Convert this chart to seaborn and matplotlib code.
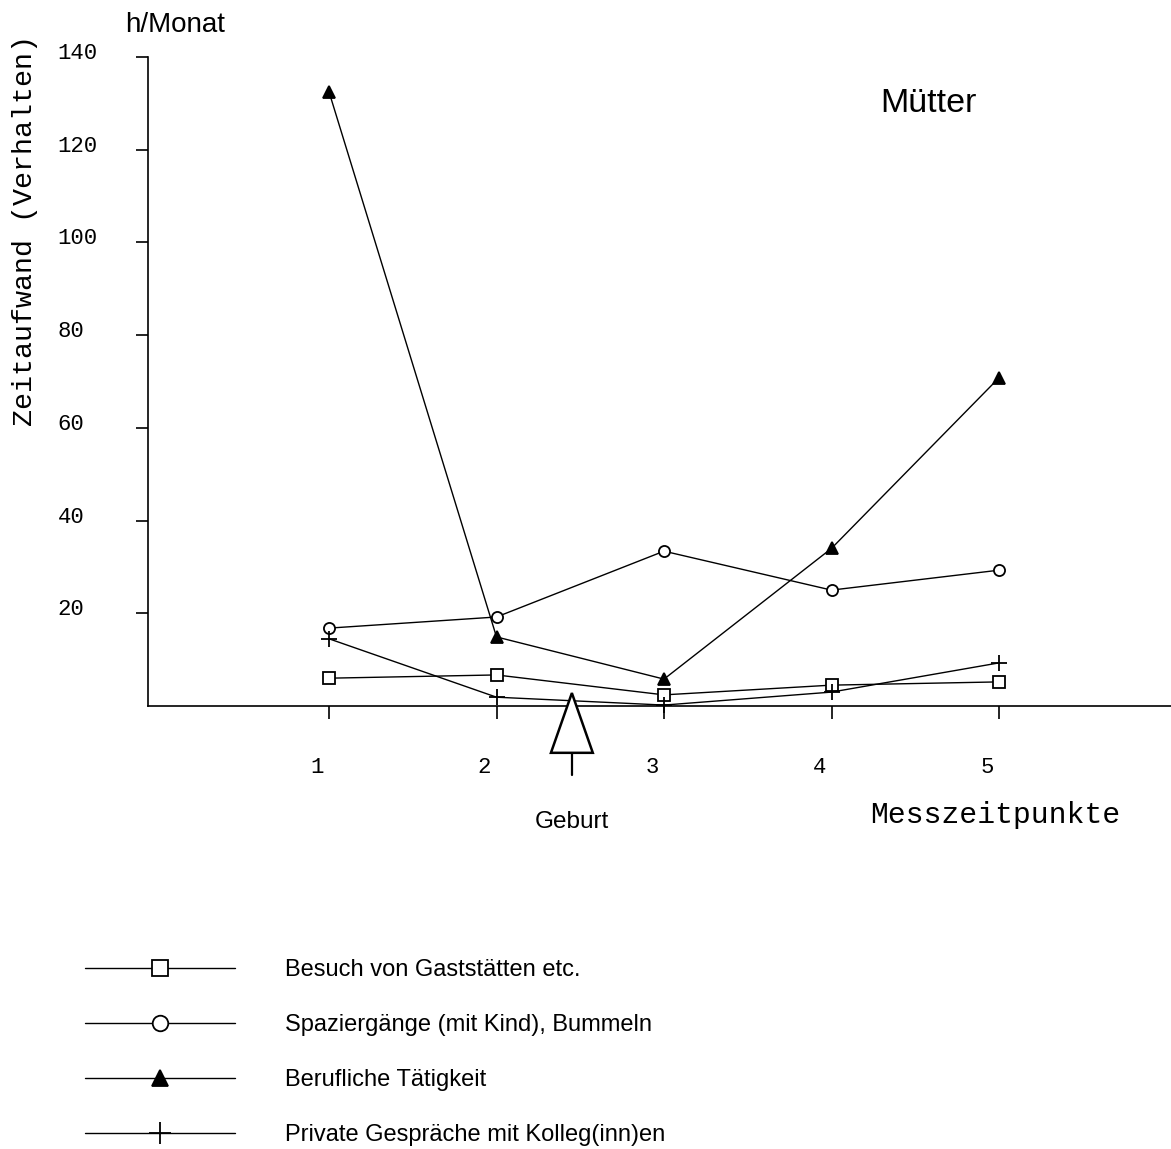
import pandas as pd
import numpy as np
import matplotlib
matplotlib.use('agg')
import matplotlib.pyplot as plt
import matplotlib.transforms as mtransforms
from matplotlib.patches import Polygon
import seaborn as sns

### data ###
zeitpunkte = [1, 2, 3, 4, 5]
besuch_gaststaetten = [6.0, 6.7, 2.4, 4.5, 5.2]
spaziergaenge = [16.8, 19.2, 33.4, 25.0, 29.3]
berufliche_taetigkeit = [132.5, 14.9, 5.8, 34.0, 70.8]
private_gespraeche = [14.5, 1.9, 0.2, 3.0, 9.3]

series_names = ["Besuch von Gaststätten etc.",
                "Spaziergänge (mit Kind), Bummeln",
                "Berufliche Tätigkeit",
                "Private Gespräche mit Kolleg(inn)en"]
series_values = [besuch_gaststaetten, spaziergaenge, berufliche_taetigkeit, private_gespraeche]
y_ticks = [20, 40, 60, 80, 100, 120, 140]
geburt_x = 2.45

### style ###
sns.set_style("white")
plt.rcParams['font.family'] = ['Liberation Sans', 'DejaVu Sans']
plt.rcParams['text.color'] = 'black'
plt.rcParams['xtick.color'] = 'black'
plt.rcParams['ytick.color'] = 'black'
plt.rcParams['axes.labelcolor'] = 'black'

markers = ["s", "o", "^", "+"]
facecolors = ["white", "white", "black", "black"]
msizes = [8, 8, 8, 11]

fig = plt.figure(figsize=(11.71, 11.49), dpi=100)
ax = fig.add_axes([148 / 1171, 1 - 706 / 1149, 1 - 148 / 1171, (706 - 57) / 1149])

for name, vals, m, fc, ms in zip(series_names, series_values, markers, facecolors, msizes):
    df = pd.DataFrame({"Messzeitpunkt": zeitpunkte, "Stunden": vals})
    sns.lineplot(data=df, x="Messzeitpunkt", y="Stunden", ax=ax, color="black",
                 linewidth=1.0, marker=m, markersize=ms, markerfacecolor=fc,
                 markeredgecolor="black", markeredgewidth=1.3, label=name, clip_on=False)

ax.set_xlim(1 - 181 / 167.5, 5 + 172 / 167.5)
ax.set_ylim(0, 140)
sns.despine(ax=ax, top=True, right=True)
for side in ["left", "bottom"]:
    ax.spines[side].set_linewidth(1.2)
    ax.spines[side].set_color("black")

ax.set_xlabel("")
ax.set_ylabel("")

# ticks
ax.set_xticks(zeitpunkte)
ax.set_xticklabels([str(z) for z in zeitpunkte], fontfamily="Liberation Mono", fontsize=16)
ax.tick_params(axis="x", direction="out", length=9, width=1.2, pad=28, bottom=True)
offset = mtransforms.ScaledTranslation(-12 / 100, 0, fig.dpi_scale_trans)
for lbl in ax.get_xticklabels():
    lbl.set_transform(lbl.get_transform() + offset)

ax.set_yticks(y_ticks)
ax.set_yticklabels([str(t) for t in y_ticks], fontfamily="Liberation Mono", fontsize=16,
                   ha="left")
ax.tick_params(axis="y", direction="out", length=9, width=1.2, pad=56, left=True)
yoff = mtransforms.ScaledTranslation(0, 6 / 100, fig.dpi_scale_trans)
for lbl in ax.get_yticklabels():
    lbl.set_transform(lbl.get_transform() + yoff)

# Geburt arrow
tri = Polygon([[geburt_x - 0.125, -10.1], [geburt_x + 0.125, -10.1], [geburt_x, 2.8]],
              closed=True, facecolor="white", edgecolor="black", linewidth=1.8,
              clip_on=False, zorder=5)
ax.add_patch(tri)
ax.plot([geburt_x, geburt_x], [-10.1, -14.9], color="black", linewidth=1.6, clip_on=False)
ax.text(geburt_x, -25.0, "Geburt", ha="center", va="center", fontsize=17.5)

# texts
ax.text(4.576, 130, "Mütter", ha="center", va="center", fontsize=24.5)
ax.text(4.976, -23.5, "Messzeitpunkte", ha="center", va="center",
        fontfamily="Liberation Mono", fontsize=21.4)
fig.text(175 / 1171, 1 - 25 / 1149, "h/Monat", ha="center", va="center", fontsize=20)
fig.text(25 / 1171, 1 - 231 / 1149, "Zeitaufwand (Verhalten)", ha="center", va="center",
         rotation=90, fontfamily="Liberation Mono", fontsize=20.4)

# legend below the chart
handles, labels = ax.get_legend_handles_labels()
ax.get_legend().remove()
fig.legend(handles, labels, loc="upper left", bbox_to_anchor=(85 / 1171, 1 - 959 / 1149),
           frameon=False, fontsize=17, handlelength=6.35, handletextpad=2.1,
           labelspacing=1.4, borderpad=0, borderaxespad=0, markerscale=1.4)

plt.savefig("out.png", dpi=100)
